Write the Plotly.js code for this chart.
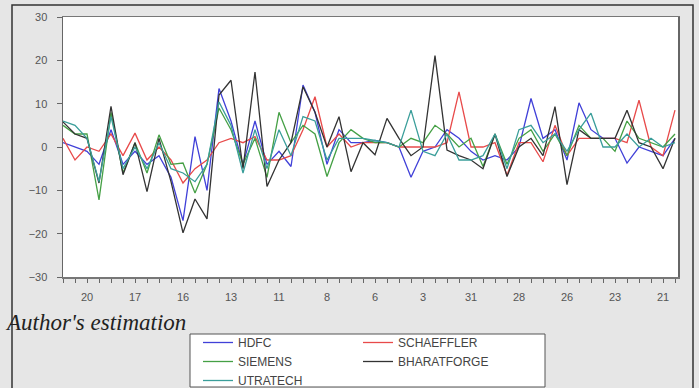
<!DOCTYPE html>
<html>
<head>
<meta charset="utf-8">
<script src="https://cdn.plot.ly/plotly-3.0.1.min.js"></script>
<style>html,body{margin:0;padding:0;background:#e6e6e6;}#chart{width:699px;height:388px;}</style>
</head>
<body>
<div id="chart"></div>
<script>
// observation index (one tick per observation)
const obs = Array.from({length: 52}, (_, i) => i);
const tickLabelPos = [2, 6, 10, 14, 18, 22, 26, 30, 34, 38, 42, 46, 50];
const tickLabels = ['20', '17', '16', '13', '11', '8', '6', '3', '31', '28', '26', '23', '21'];

const HDFC = [1, 0, -1, -4, 4, -4, -1, -4, -2, -7, -17, 2.4, -10, 13.5, 6, -4, 6, -4, -1, -4.5,
  14.3, 8, -4, 4, 1, 1, 1.5, 1, 0, -7, -1, 0, 4, 2, -1, -3, -2, -3, 0, 11.2,
  2, 4, -3, 10.2, 4, 2, 2, -3.7, 0, -1, -2, 2];
const SCHAEFFLER = [2, -3, 0, -1, 3, -2, 3.2, -3, 0, -3, -8.3, -5, -3, 1, 2, 1, 2.4, -3, -3, -2,
  4, 11.6, 0, 3, 0, 1, 1, 1, 0, 0, 0, 0, 1, 12.7, 0, 0, 1, -6.5, 1, 1,
  -3.4, 5, -2, 2, 2, 2, 2, 1, 10.8, 0, -2, 8.5];
const SIEMENS = [5, 3, 3, -12.2, 8, -6, 1, -6, 2.8, -4, -3.7, -10.6, -4, 9, 4, -4, 2, -7, 8, 1,
  5, 3, -6.8, 1, 4, 2, 1, 1, 0, 2, 1, 5, 3, 0, 2, -4.5, 3, -4, 2, 4,
  -1, 3, -2, 5, 2, 2, -1, 6, 2, 1, 0, 3];
const BHARATFORGE = [5.8, 3, 2, -8.3, 9.4, -6.4, 1, -10.3, 2, -8, -19.8, -12, -16.6, 12, 15.4, -5, 17.3, -9.1, -3, 1,
  13.9, 8, 0, 7, -5.7, 1, -1.8, 6.6, 2, -2, 0, 21.1, -0.7, -2, -3, -5, 3, -6.8, 0, 2,
  -2, 9.3, -8.7, 4, 2, 2, 2, 8.5, 1, 0, -5, 2];
const UTRATECH = [6, 5, 2, -8, 7, -5, 0, -5, 1, -5, -6, -8, -4, 10.4, 5, -6, 4, -5, 4, -2,
  7, 6, -3, 2, 2, 2, 1.5, 1, 0, 8.5, -1, -2, 3, -3, -3, -2, 3, -5, 4, 5,
  1, 3, -1, 4, 7.8, 0, 0, 3, 0, 2, 0, 1];

const tickvals = obs;
const ticktext = obs.map(i => {
  const k = tickLabelPos.indexOf(i);
  return k >= 0 ? tickLabels[k] : '';
});

function tr(name, y, color, legend) {
  return {x: obs, y: y, name: name, type: 'scatter', mode: 'lines',
    line: {color: color, width: 1.3}, legend: legend};
}

const data = [
  tr('HDFC', HDFC, '#4040d8', 'legend'),
  tr('SCHAEFFLER', SCHAEFFLER, '#e84a4a', 'legend2'),
  tr('SIEMENS', SIEMENS, '#45a045', 'legend'),
  tr('BHARATFORGE', BHARATFORGE, '#333333', 'legend2'),
  tr('UTRATECH', UTRATECH, '#3a9e9a', 'legend')
];

const W = 699, H = 388, L = 63, R = 21, T = 17, B = 111;
const pw = W - L - R, ph = H - T - B;
const px = v => (v - L) / pw;
const py = v => (H - B - v) / ph;

const layout = {
  width: W, height: H,
  margin: {l: L, r: R, t: T, b: B, pad: 0, autoexpand: false},
  paper_bgcolor: '#e6e6e6',
  plot_bgcolor: '#ffffff',
  font: {family: 'Liberation Sans, Arial, sans-serif', color: '#555'},
  xaxis: {
    range: [0, 51.25], tickmode: 'array', tickvals: tickvals, ticktext: ticktext,
    ticks: 'outside', ticklen: 4, tickcolor: '#666', tickwidth: 1,
    showgrid: false, zeroline: false, showline: true, mirror: true,
    linecolor: '#777', linewidth: 1.5, tickfont: {size: 11, color: '#555'},
    ticklabelstandoff: 5
  },
  yaxis: {
    range: [-30, 30], tickvals: [-30, -20, -10, 0, 10, 20, 30],
    ticks: 'outside', ticklen: 5, tickcolor: '#666',
    showgrid: false, zeroline: false, showline: true, mirror: true,
    linecolor: '#666', linewidth: 1.5, tickfont: {size: 11, color: '#555'},
    ticklabelstandoff: 7
  },
  showlegend: true,
  legend: {x: px(198), y: py(328), xanchor: 'left', yanchor: 'top', bgcolor: 'rgba(0,0,0,0)',
    font: {size: 12, color: '#444'}, tracegroupgap: 0},
  legend2: {x: px(358), y: py(328), xanchor: 'left', yanchor: 'top', bgcolor: 'rgba(0,0,0,0)',
    font: {size: 12, color: '#444'}, tracegroupgap: 0},
  shapes: [
    {type: 'rect', xref: 'paper', yref: 'paper', x0: px(12), x1: px(693), y0: py(420), y1: py(5),
      line: {color: '#333', width: 1.5}, fillcolor: 'rgba(0,0,0,0)', layer: 'above'},
    {type: 'rect', xref: 'paper', yref: 'paper', x0: px(190), x1: px(545), y0: py(387), y1: py(334),
      line: {color: '#555', width: 1}, fillcolor: '#ffffff', layer: 'above'}
  ],
  annotations: [
    {text: "Author's estimation", xref: 'paper', yref: 'paper', x: px(3), y: py(322),
      xanchor: 'left', yanchor: 'middle', showarrow: false,
      font: {family: 'Liberation Serif, Times New Roman, serif', size: 23, color: '#222', style: 'italic'}}
  ]
};

Plotly.newPlot('chart', data, layout, {displayModeBar: false, staticPlot: true});
</script>
</body>
</html>
